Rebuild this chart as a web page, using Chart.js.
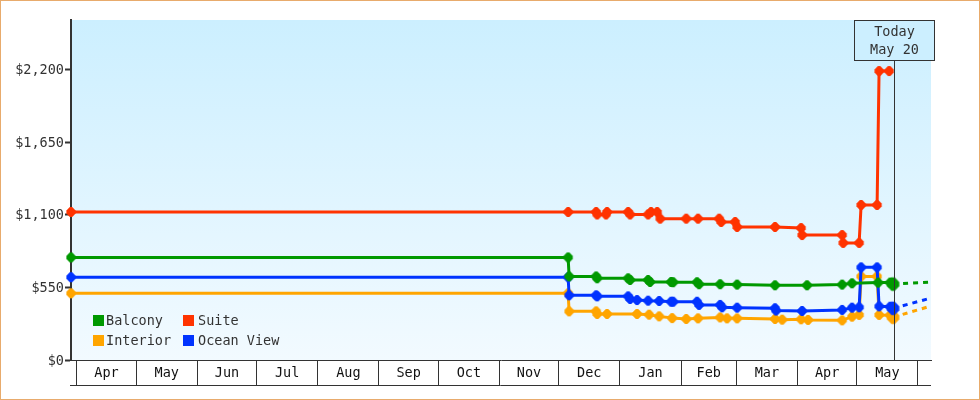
<!DOCTYPE html>
<html>
<head>
<meta charset="utf-8">
<style>html,body{margin:0;padding:0;background:#fff;overflow:hidden}canvas{display:block}</style>
<script src="https://cdn.jsdelivr.net/npm/chart.js@4/dist/chart.umd.min.js"></script>
</head>
<body>
<canvas id="c" width="980" height="400"></canvas>
<script>
// x values are days since April 1
const monthNames = ["Apr","May","Jun","Jul","Aug","Sep","Oct","Nov","Dec","Jan","Feb","Mar","Apr","May"];
const monthStarts = [0,30,61,91,122,153,183,214,244,275,306,334,365,395,426];
const yTicks = [0,550,1100,1650,2200];
const todayDay = 413.9;
const todayLines = ["Today","May 20"];

const balconyDays = [-3,248.8,249.3,263,263.5,279.2,280.2,289.3,290.3,301,302,314.1,315.1,325.8,334.4,353.6,369.8,387.6,392.6,405.8,411.9,413.4];
const balconyVals = [778,778,634,634,620,620,607,607,592,592,590,590,575,575,572,567,567,572,582,587,587,576];
const balconyFuture = [[413.4,432.6],[576,590]];

const suiteDays = [-3,248.8,263,263.5,268,268.5,279.2,280.2,289.3,290.8,293.9,295.4,308.6,314.6,325.3,326.3,333.4,334.4,353.6,366.8,367.3,387.6,388.1,396.2,397.2,405.3,406.3,411.4];
const suiteVals = [1123,1123,1123,1104,1104,1123,1123,1104,1104,1123,1123,1072,1072,1072,1072,1047,1047,1009,1009,1001,948,948,888,888,1176,1176,2192,2192];

const interiorDays = [-3,248.8,249.3,263,263.5,268.5,283.7,289.8,294.9,301.5,308.6,314.6,325.8,329.3,334.4,353.6,357.2,366.8,370.3,387.6,392.6,396.2,397.2,405.3,406.3,411.9,413.4];
const interiorVals = [506,506,369,369,349,349,349,344,331,318,311,316,323,316,316,311,306,309,304,301,329,342,634,634,342,340,324];
const interiorFuture = [[413.4,432.6],[324,410]];

const oceanDays = [-3,248.8,249.3,263,263.5,279.2,280.2,283.7,289.3,294.9,301,302,314.1,315.1,325.8,326.8,334.4,353.6,354.1,367.3,387.6,392.6,396.2,397.2,405.3,406.3,411.9,413.4];
const oceanVals = [628,628,491,491,483,483,463,455,450,448,442,442,442,418,418,400,397,393,375,372,380,397,400,703,703,407,404,392];
const oceanFuture = [[413.4,432.6],[392,470]];

const red = "#ff3300", green = "#009900", orange = "#ffa500", blue = "#0033ff", ink = "#333333";
const font = '"DejaVu Sans Mono", monospace';

// rounded-diamond marker sprite
function marker(color, scale){
  const size = Math.ceil(12*scale), cv = document.createElement("canvas");
  cv.width = size; cv.height = size;
  const g = cv.getContext("2d"), m = size/2;
  const pts = [[-1.2,-5],[1.2,-5],[4.6,-1.4],[4.6,1.4],[1.2,5],[-1.2,5],[-4.6,1.4],[-4.6,-1.4]];
  g.fillStyle = color; g.beginPath();
  pts.forEach(([a,b],i)=>{ const X=m+a*scale, Y=m+b*scale; i?g.lineTo(X,Y):g.moveTo(X,Y); });
  g.closePath(); g.fill();
  return cv;
}
function xy(xs, ys){ return xs.map((x,i)=>({x:x,y:ys[i]})); }
function line(label,xs,ys,color,order){
  const n = xs.length, small = marker(color,1), big = marker(color,1.35);
  return {label, data:xy(xs,ys), borderColor:color, backgroundColor:color, borderWidth:3, order, clip:false,
    tension:0, pointRadius:5,
    pointStyle:ctx=>(label!=="Suite" && ctx.dataIndex===n-1)?big:small};
}
function future(color,f,order){
  return {label:"", data:xy(f[0],f[1]), borderColor:color, borderWidth:3, borderDash:[5,5], pointRadius:0, order, clip:false};
}
const legendItems = [["Balcony",green,93,320,106],["Suite",red,183,320,198],["Interior",orange,93,340,106],["Ocean View",blue,183,340,198]];

const decor = {
  id:"decor",
  beforeDraw(ch){
    const c=ch.ctx,a=ch.chartArea;
    const g=c.createLinearGradient(0,a.top,0,a.bottom);
    g.addColorStop(0,"#ccefff"); g.addColorStop(1,"#f2faff");
    c.save(); c.fillStyle=g; c.fillRect(a.left,a.top,a.right-a.left,a.bottom-a.top); c.restore();
  },
  afterDatasetsDraw(ch){
    const c=ch.ctx,a=ch.chartArea,xs=ch.scales.x;
    const tx=Math.round(xs.getPixelForValue(todayDay))+0.5;
    c.save();
    c.strokeStyle=ink; c.lineWidth=1;
    c.beginPath(); c.moveTo(tx,60); c.lineTo(tx,a.bottom); c.stroke();
    c.beginPath(); c.moveTo(70,385.5); c.lineTo(a.right,385.5); c.stroke();
    // today box
    const bx=854.5, by=20.5, bw=80, bh=40;
    c.fillStyle="#ccefff"; c.fillRect(bx,by,bw,bh); c.strokeRect(bx,by,bw,bh);
    c.fillStyle=ink; c.font="13.5px "+font; c.textAlign="center"; c.textBaseline="middle";
    c.fillText(todayLines[0],bx+bw/2,32);
    c.fillText(todayLines[1],bx+bw/2,50);
    // legend
    c.textAlign="left";
    legendItems.forEach(([t,col,x,y,tx2])=>{
      c.fillStyle=col; c.fillRect(x,y-5,11,11);
      c.fillStyle=ink; c.fillText(t,tx2,y+1);
    });
    // page border
    c.strokeStyle="#e8ab6c"; c.lineWidth=1; c.strokeRect(0.5,0.5,979,399);
    c.restore();
  }
};

new Chart(document.getElementById("c"),{
  type:"line",
  data:{datasets:[
    line("Balcony",balconyDays,balconyVals,green,0),
    line("Suite",suiteDays,suiteVals,red,1),
    line("Ocean View",oceanDays,oceanVals,blue,2),
    line("Interior",interiorDays,interiorVals,orange,3),
    future(green,balconyFuture,0),
    future(blue,oceanFuture,2),
    future(orange,interiorFuture,3)
  ]},
  plugins:[decor],
  options:{
    responsive:false, animation:false, devicePixelRatio:1,
    layout:{padding:{top:20,right:49,left:0,bottom:0}},
    plugins:{legend:{display:false},tooltip:{enabled:false}},
    scales:{
      x:{type:"linear",min:-3,max:432.6,
        afterFit(s){s.height=40;},
        afterBuildTicks(s){
          const t=[];
          monthStarts.forEach((m,i)=>{
            t.push({value:m});
            if(i<monthNames.length) t.push({value:(m+monthStarts[i+1])/2});
          });
          s.ticks=t;
        },
        grid:{drawOnChartArea:false,tickLength:25,tickWidth:1,
          tickColor:ctx=>(ctx.index%2===0)?ink:"rgba(0,0,0,0)"},
        border:{color:ink,width:1},
        ticks:{autoSkip:false,maxRotation:0,minRotation:0,padding:-20,color:"#111",
          font:{family:font,size:13.5},
          callback:(v,i)=>(i%2===1)?monthNames[(i-1)/2]:""}
      },
      y:{min:0,max:2579,
        afterFit(s){s.width=71;},
        afterBuildTicks(s){s.ticks=yTicks.map(v=>({value:v}));},
        grid:{drawOnChartArea:false,tickLength:6,tickWidth:2,tickColor:ink},
        border:{color:ink,width:2},
        ticks:{padding:1,labelOffset:1,color:ink,font:{family:font,size:13.5},
          callback:v=>"$"+v.toLocaleString("en-US")}
      }
    }
  }
});
</script>
</body>
</html>
